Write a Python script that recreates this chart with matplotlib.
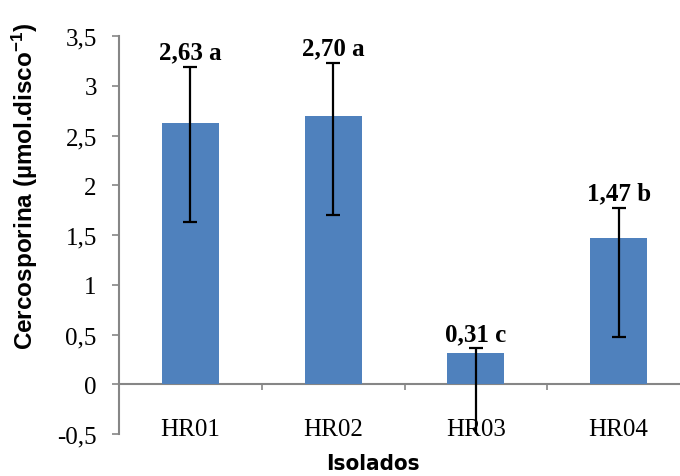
import matplotlib
matplotlib.use("Agg")
import matplotlib.pyplot as plt
import numpy as np

plt.rcParams["mathtext.fontset"] = "custom"
plt.rcParams["mathtext.bf"] = "Liberation Sans:bold"
plt.rcParams["mathtext.rm"] = "Liberation Sans:bold"
plt.rcParams["mathtext.default"] = "bf"

categories = ["HR01", "HR02", "HR03", "HR04"]
values = [2.63, 2.70, 0.31, 1.47]
err_lower = [1.00, 1.00, 1.00, 1.00]
err_upper = [0.56, 0.53, 0.05, 0.30]
labels = ["2,63 a", "2,70 a", "0,31 c", "1,47 b"]
yticks = [-0.5, 0, 0.5, 1, 1.5, 2, 2.5, 3, 3.5]
ytick_labels = ["-0,5", "0", "0,5", "1", "1,5", "2", "2,5", "3", "3,5"]

W, H = 680, 477
fig = plt.figure(figsize=(W / 100, H / 100), dpi=100)
ax = fig.add_axes([119 / W, (H - 435) / H, (690 - 119) / W, (435 - 37) / H])

gray = "#868686"
for s in ["top", "right"]:
    ax.spines[s].set_visible(False)
ax.spines["bottom"].set_position(("data", 0))
ax.spines["bottom"].set_color(gray)
ax.spines["left"].set_color(gray)
ax.spines["bottom"].set_linewidth(1.5)
ax.spines["left"].set_linewidth(1.5)
ax.spines["bottom"].set_zorder(1)

x = np.arange(len(categories))
ax.bar(x, values, width=0.40, color="#4F81BD", zorder=2)
ax.errorbar(x, values, yerr=[err_lower, err_upper], fmt="none", ecolor="black",
            elinewidth=1.6, capsize=5, capthick=1.6, zorder=3)

for xi, v, u, lab in zip(x, values, err_upper, labels):
    ax.annotate(lab, (xi, v + u), xytext=(0, 6), textcoords="offset points",
                ha="center", va="baseline", fontsize=18, fontweight="bold",
                family="Liberation Serif", clip_on=False, annotation_clip=False)

ax.set_xlim(-0.5, 3.5)
ax.set_ylim(-0.5, 3.5)
ax.set_yticks(yticks)
ax.set_yticklabels(ytick_labels, family="Liberation Serif", fontsize=18)
ax.set_xticks(x)
ax.set_xticklabels(categories, family="Liberation Serif", fontsize=18)
ax.set_xticks([0.5, 1.5, 2.5], minor=True)

ax.tick_params(axis="y", direction="out", length=5, width=1.2, color=gray, pad=11)
ax.tick_params(axis="x", which="major", length=0, pad=24)
ax.tick_params(axis="x", which="minor", direction="out", length=4.5, width=1.2, color=gray)

fig.text(25 / W, (H - 186) / H, "Cercosporina (µmol.disco$^{-1}$)", rotation=90,
         ha="center", va="center", fontsize=17.5, fontweight="bold", family="Liberation Sans")

fig.text(373 / W, 3 / H, "Isolados", ha="center", va="bottom", fontsize=16,
         fontweight="heavy", family="DejaVu Sans", fontstretch="condensed")

fig.savefig("out.png", dpi=100)
